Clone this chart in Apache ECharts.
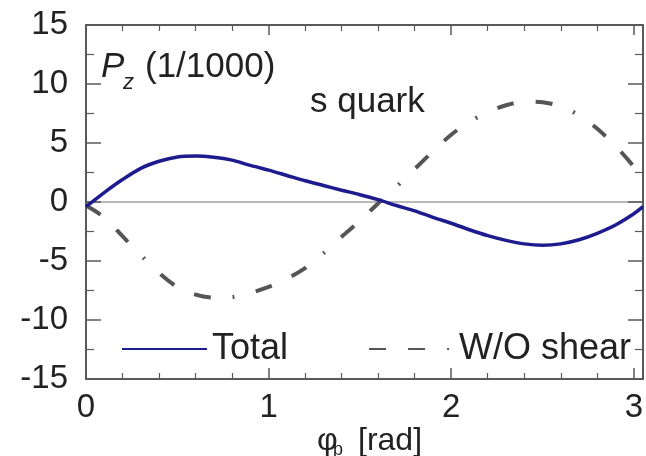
<!DOCTYPE html>
<html>
<head>
<meta charset="utf-8">
<script src="https://cdn.jsdelivr.net/npm/echarts@6/dist/echarts.min.js"></script>
<style>
html,body{margin:0;padding:0;background:#fff;}
#chart{width:646px;height:456px;}
</style>
</head>
<body>
<div id="chart"></div>
<script>
// Data
const phi = [0.0,0.1,0.2,0.3,0.4,0.5,0.6,0.7,0.8,0.9,1.0,1.1,1.2,1.3,1.4,1.5,1.6,1.7,1.8,1.9,2.0,2.1,2.2,2.3,2.4,2.5,2.6,2.7,2.8,2.9,3.0,3.05];
const total = [-0.4,0.8,1.9,2.85,3.45,3.82,3.9,3.8,3.55,3.1,2.7,2.25,1.8,1.4,1.0,0.62,0.2,-0.3,-0.75,-1.3,-1.8,-2.35,-2.85,-3.25,-3.55,-3.67,-3.55,-3.2,-2.65,-1.95,-1.0,-0.4];
const woShear = [-0.3,-1.3,-2.9,-4.5,-6.0,-7.2,-7.85,-8.1,-8.05,-7.7,-7.2,-6.5,-5.6,-4.35,-2.95,-1.6,-0.1,1.3,2.8,4.3,5.7,6.8,7.6,8.2,8.5,8.45,8.1,7.35,6.2,4.75,3.0,2.0];
const xTickLabels = ['0','1','2','3'];
const yTickLabels = ['-15','-10','-5','0','5','10','15'];
const seriesNames = ['Total','W/O shear'];

const axisColor = '#5a5a5a';
const textColor = '#222';
const font = 'Liberation Sans, Arial, Helvetica, sans-serif';

const chart = echarts.init(document.getElementById('chart'), null, {renderer:'canvas'});

const xBase = {
  type:'value', min:0, max:3.05, interval:1,
  axisLine:{show:true, onZero:false, lineStyle:{color:axisColor, width:2}},
  splitLine:{show:false}
};
const yBase = {
  type:'value', min:-15, max:15, interval:5,
  axisLine:{show:true, onZero:false, lineStyle:{color:axisColor, width:2}}
};

chart.setOption({
  animation:false,
  backgroundColor:'#fff',
  grid:{left:86, top:25, width:559.7, height:354, containLabel:false},
  xAxis:[
    Object.assign({}, xBase, {
      position:'bottom',
      axisTick:{show:true, inside:true, length:11, lineStyle:{color:axisColor, width:1.5}},
      minorTick:{show:true, splitNumber:5, length:6, lineStyle:{color:axisColor, width:1.2}},
      axisLabel:{show:true, margin:12, fontSize:33, fontFamily:font, color:textColor,
        formatter:function(v){ const s=String(v); return xTickLabels.indexOf(s)>=0 ? s : ''; }}
    }),
    Object.assign({}, xBase, {
      position:'top',
      axisTick:{show:true, inside:true, length:10, lineStyle:{color:axisColor, width:1.5}},
      minorTick:{show:true, splitNumber:5, length:6, lineStyle:{color:axisColor, width:1.2}},
      axisLabel:{show:false}
    })
  ],
  yAxis:[
    Object.assign({}, yBase, {
      position:'left',
      axisTick:{show:true, inside:true, length:15, lineStyle:{color:axisColor, width:1.5}},
      minorTick:{show:true, splitNumber:2, length:8, lineStyle:{color:axisColor, width:1.2}},
      splitLine:{show:true, lineStyle:{color:['rgba(0,0,0,0)','rgba(0,0,0,0)','rgba(0,0,0,0)','#a0a0a0','rgba(0,0,0,0)','rgba(0,0,0,0)','rgba(0,0,0,0)'], width:1.5}},
      axisLabel:{show:true, margin:18, fontSize:33, fontFamily:font, color:textColor,
        formatter:function(v){ const s=String(v); return yTickLabels.indexOf(s)>=0 ? s : ''; }}
    }),
    Object.assign({}, yBase, {
      position:'right',
      axisTick:{show:true, inside:true, length:15, lineStyle:{color:axisColor, width:1.5}},
      minorTick:{show:true, splitNumber:2, length:8, lineStyle:{color:axisColor, width:1.2}},
      splitLine:{show:false},
      axisLabel:{show:false}
    })
  ],
  legend:{
    show:true, left:116, top:326, orient:'horizontal',
    itemWidth:85, itemHeight:20, itemGap:80,
    itemStyle:{color:'rgba(0,0,0,0)', borderColor:'rgba(0,0,0,0)', borderWidth:0, opacity:0},
    textStyle:{fontSize:36, fontFamily:font, color:textColor},
    data:seriesNames
  },
  series:[
    {
      name:seriesNames[0], type:'line', xAxisIndex:0, yAxisIndex:0,
      data:phi.map((x,i)=>[x,total[i]]),
      smooth:0.3, symbol:'none', showSymbol:false, z:3,
      lineStyle:{color:'#1c1c8e', width:3.5},
      itemStyle:{color:'#1c1c8e'}
    },
    {
      name:seriesNames[1], type:'line', xAxisIndex:0, yAxisIndex:0,
      data:phi.map((x,i)=>[x,woShear[i]]),
      smooth:0.3, symbol:'none', showSymbol:false, z:2,
      lineStyle:{color:'#555', width:4, type:[17,22,17,22,2,22], cap:'butt'},
      itemStyle:{color:'#555'}
    }
  ],
  graphic:[
    {type:'text', left:101, top:50, style:{text:'P', font:'italic 35px '+font, fill:textColor}},
    {type:'text', left:123, top:72, style:{text:'z', font:'italic 22px '+font, fill:textColor}},
    {type:'text', left:145, top:50, style:{text:'(1/1000)', font:'35px '+font, fill:textColor}},
    {type:'text', left:310, top:85, style:{text:'s quark', font:'35px '+font, fill:textColor}},
    {type:'text', left:317, top:425, style:{text:'φ', font:'32px '+font, fill:textColor}},
    {type:'text', left:333, top:441, style:{text:'p', font:'18px '+font, fill:textColor}},
    {type:'text', left:358, top:425, style:{text:'[rad]', font:'32px '+font, fill:textColor}}
  ]
});
</script>
</body>
</html>
